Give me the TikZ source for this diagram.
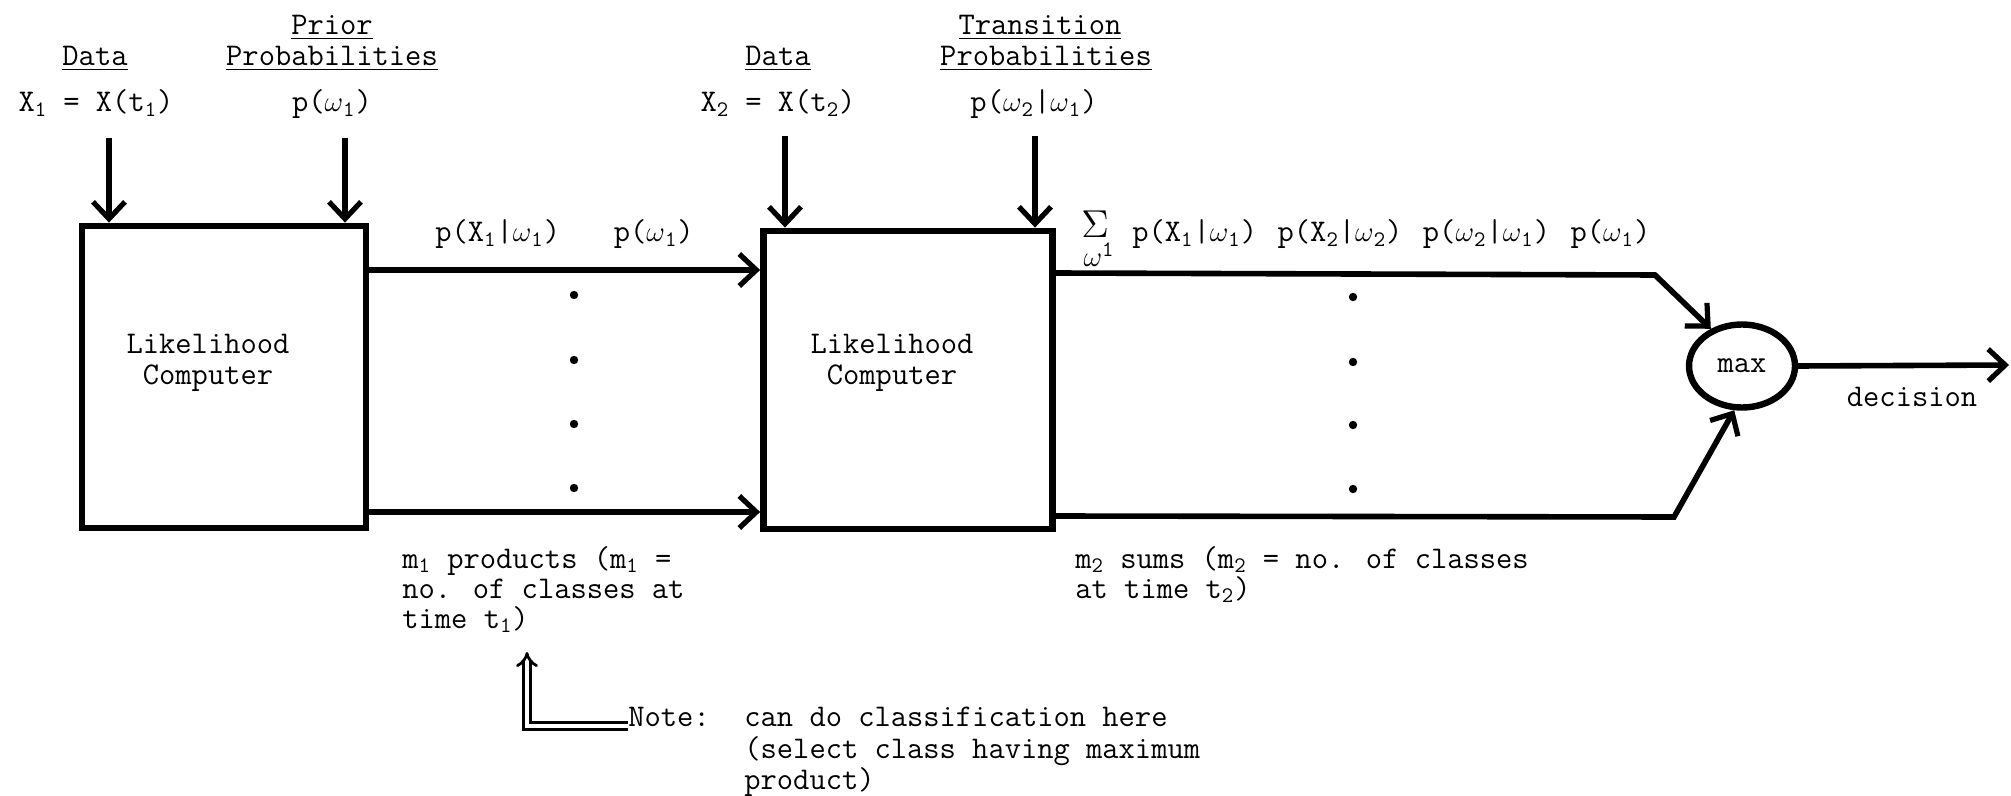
\documentclass[tikz,border=0pt]{standalone}
\usepackage{fontspec}
\usepackage{graphicx}
\usetikzlibrary{arrows.meta,shapes.geometric}
\newcommand\sbs[1]{\textsubscript{#1}}
\newcommand\om{$\omega$}
\tikzset{
  every node/.style={font=\fontsize{15.8pt}{16pt}\selectfont\ttfamily, inner sep=0pt},
  lbl/.style={anchor=base},
  lblw/.style={anchor=base west},
  blk/.style={draw, line width=3.4pt, minimum width=141.5pt, minimum height=149.5pt},
  flow/.style={line width=2.8pt, -{Straight Barb[length=8.5pt,width=16pt,line width=2.6pt]}},
  dotn/.style={circle, fill, minimum size=4.2pt},
  maxnode/.style={draw, ellipse, line width=3.2pt, minimum width=53pt, minimum height=41.5pt},
  dbl/.style={double, double distance=2.2pt, line width=1.4pt, -{Implies}},
}
\begin{document}
\begin{tikzpicture}[x=0.5pt,y=-0.5pt]
\useasboundingbox (0,0) rectangle (2011,796);
% --- top labels, first stage
\node[lbl] (dataA) at (95,66) {\underline{Data}};
\node[lbl] (xA) at (96,112) {X\sbs{1} = X(t\sbs{1})};
\node[lbl] (priorA) at (332,35) {\underline{Prior}};
\node[lbl] (priorB) at (332,66) {\underline{Probabilities}};
\node[lbl] (pw1) at (332,112) {p(\om\sbs{1})};
% --- top labels, second stage
\node[lbl] (dataB) at (778,66) {\underline{Data}};
\node[lbl] (xB) at (778,112) {X\sbs{2} = X(t\sbs{2})};
\node[lbl] (transA) at (1040,35) {\underline{Transition}};
\node[lbl] (transB) at (1046,66) {\underline{Probabilities}};
\node[lbl] (pw21) at (1034,112) {p(\om\sbs{2}|\om\sbs{1})};
% --- boxes
\node[blk, minimum width=142pt, minimum height=151pt] (b1) at (224,377) {};
\node[lbl] (t1a) at (208,353) {Likelihood};
\node[lbl] (t1b) at (208,385) {Computer};
\node[blk, minimum width=144.5pt, minimum height=149pt] (b2) at (908,380) {};
\node[lbl] (t2a) at (892,353) {Likelihood};
\node[lbl] (t2b) at (892,385) {Computer};
% --- input arrows
\coordinate (a1) at (109,138);
\coordinate (a2) at (345,138);
\coordinate (a3) at (785,136);
\coordinate (a4) at (1035,136);
\draw[flow] (a1) -- (a1 |- b1.north);
\draw[flow] (a2) -- (a2 |- b1.north);
\draw[flow] (a3) -- (a3 |- b2.north);
\draw[flow] (a4) -- (a4 |- b2.north);
% --- between boxes
\coordinate (r1) at (0,270);
\coordinate (r2) at (0,512);
\draw[flow] (b1.east |- r1) -- (b2.west |- r1);
\draw[flow] (b1.east |- r2) -- (b2.west |- r2);
\node[lblw] (prod1) at (435,242) {p(X\sbs{1}|\om\sbs{1})\hspace{1.7em}p(\om\sbs{1})};
\node[dotn] (e1) at (574,295) {};
\node[dotn] (e2) at (574,360) {};
\node[dotn] (e3) at (574,424) {};
\node[dotn] (e4) at (574,488) {};
\node[lblw] (m1a) at (402,568) {m\sbs{1} products (m\sbs{1} =};
\node[lblw] (m1b) at (402,598) {no. of classes at};
\node[lblw] (m1c) at (402,628) {time t\sbs{1})};
% --- after second box
\node[lbl] (sig) at (1095,238) {\scalebox{1.35}{$\Sigma$}};
\node[lbl] (sigw) at (1099,267) {\om\textsuperscript{1}};
\node[lblw] (sum) at (1132,242) {p(X\sbs{1}|\om\sbs{1})\hspace{0.65em}p(X\sbs{2}|\om\sbs{2})\hspace{0.65em}p(\om\sbs{2}|\om\sbs{1})\hspace{0.65em}p(\om\sbs{1})};
\node[dotn] (f1) at (1353,297) {};
\node[dotn] (f2) at (1353,362) {};
\node[dotn] (f3) at (1353,425) {};
\node[dotn] (f4) at (1353,489) {};
\node[lblw] (m2a) at (1075,568) {m\sbs{2} sums (m\sbs{2} = no. of classes};
\node[lblw] (m2b) at (1075,598) {at time t\sbs{2})};
\node[maxnode] (mx) at (1742,366) {max};
\coordinate (s1) at (0,273);
\coordinate (s2) at (0,516);
\coordinate (k1) at (1655,275);
\coordinate (k2) at (1674,517);
\draw[flow] (b2.east |- s1) -- (k1) -- (mx.130);
\draw[flow] (b2.east |- s2) -- (k2) -- (mx.-100);
\coordinate (out) at (2009,365);
\draw[flow] (mx.east) -- (out);
\node[lbl] (dec) at (1912,407) {decision};
% --- note
\node[lblw] (nt) at (628,726) {Note:};
\node[lblw] (nc1) at (744,726) {can do classification here};
\node[lblw] (nc2) at (744,758) {(select class having maximum};
\node[lblw] (nc3) at (744,789) {product)};
\coordinate (ntip) at (527,652);
\draw[dbl] (nt.base west) -| (ntip);
\end{tikzpicture}
\end{document}
